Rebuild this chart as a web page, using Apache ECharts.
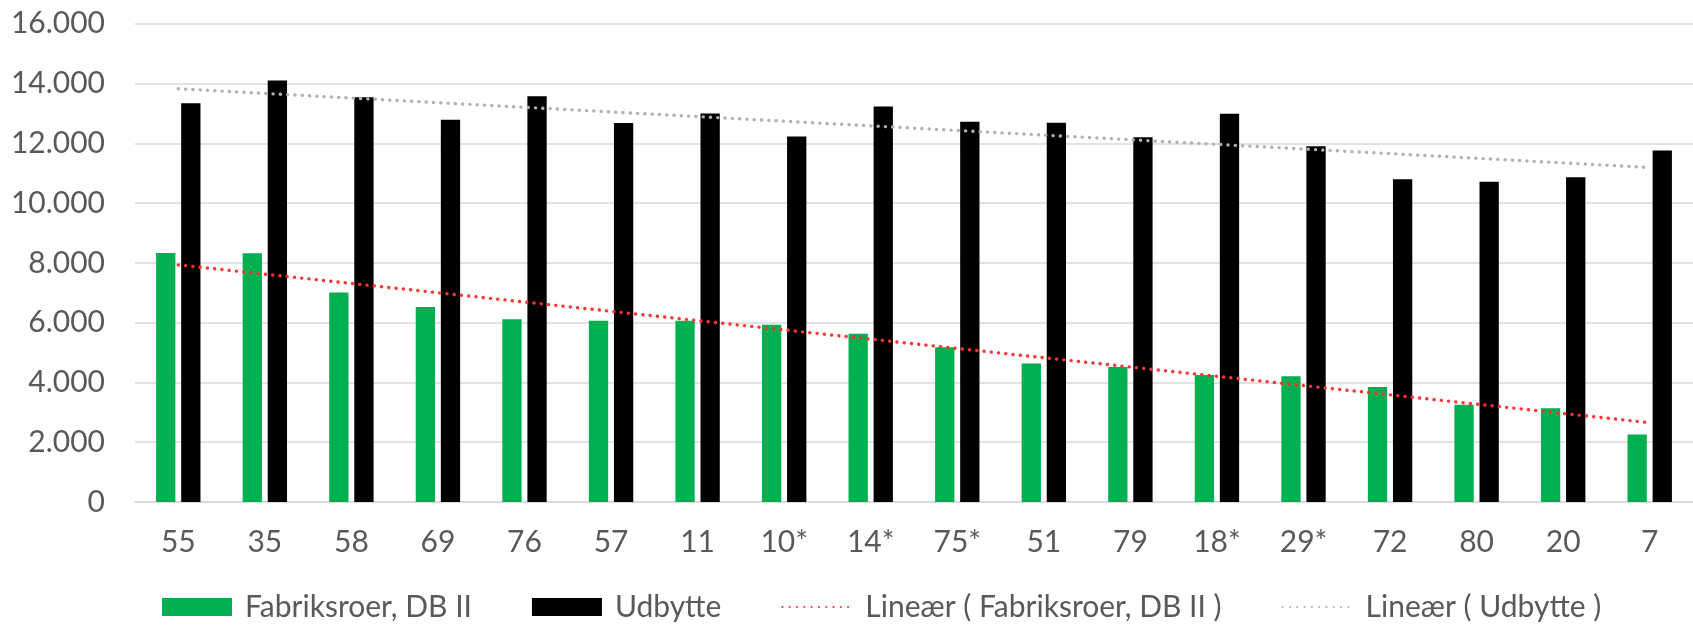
<!DOCTYPE html>
<html>
<head>
<meta charset="utf-8">
<script src="https://cdn.jsdelivr.net/npm/echarts@6/dist/echarts.min.js"></script>
<style>
html,body{margin:0;padding:0;background:#fff;}
#c{width:1693px;height:625px;}
</style>
</head>
<body>
<div id="c"></div>
<script>
const categories = ['55','35','58','69','76','57','11','10*','14*','75*','51','79','18*','29*','72','80','20','7'];
const fabriksroer = [8330,8320,7010,6520,6110,6060,6060,5930,5630,5180,4630,4520,4250,4210,3850,3250,3140,2260];
const udbytte = [13340,14100,13540,12790,13570,12680,13000,12230,13230,12720,12690,12200,12990,11900,10800,10710,10860,11760];
const yTicks = [0,2000,4000,6000,8000,10000,12000,14000,16000];
const seriesNames = ['Fabriksroer, DB II','Udbytte','Lineær ( Fabriksroer, DB II )','Lineær ( Udbytte )'];

function linearTrend(vals){
  const n = vals.length;
  let sx=0, sy=0, sxx=0, sxy=0;
  for(let i=0;i<n;i++){const x=i+1; sx+=x; sy+=vals[i]; sxx+=x*x; sxy+=x*vals[i];}
  const b=(n*sxy-sx*sy)/(n*sxx-sx*sx);
  const a=(sy-b*sx)/n;
  return vals.map((v,i)=>a+b*(i+1));
}

const fmt = v => String(v).replace(/\B(?=(\d{3})+(?!\d))/g,'.');
const font = 'Lato, "Open Sans", sans-serif';
const txt = '#595959';

const chart = echarts.init(document.getElementById('c'));
chart.setOption({
  animation:false,
  textStyle:{fontFamily:font},
  grid:{left:135,right:-6,top:23.7,bottom:123,containLabel:false},
  legend:{
    left:157, top:587,
    itemWidth:70, itemHeight:18, itemGap:60,
    textStyle:{fontSize:30,color:txt,fontFamily:font,padding:[0,0,0,8]},
    data:[
      {name:seriesNames[0],icon:'rect'},
      {name:seriesNames[1],icon:'rect'},
      {name:seriesNames[2],itemStyle:{opacity:0}},
      {name:seriesNames[3],itemStyle:{opacity:0}}
    ]
  },
  xAxis:{
    type:'category', data:categories,
    axisTick:{show:false},
    axisLine:{lineStyle:{color:'#d9d9d9',width:1.5}},
    axisLabel:{fontSize:30,color:txt,margin:25,fontFamily:font}
  },
  yAxis:{
    type:'value', min:0, max:16000, interval:2000,
    axisLabel:{fontSize:30,color:txt,margin:30,fontFamily:font,formatter:fmt},
    splitLine:{lineStyle:{color:'#d9d9d9',width:1.5}},
    axisLine:{show:false}, axisTick:{show:false}
  },
  series:[
    {name:seriesNames[0],type:'bar',data:fabriksroer,barWidth:19.3,barGap:'30%',
     itemStyle:{color:'#00b050'}},
    {name:seriesNames[1],type:'bar',data:udbytte,barWidth:19.3,barGap:'30%',
     itemStyle:{color:'#000000'}},
    {name:seriesNames[2],type:'line',data:linearTrend(fabriksroer),symbol:'none',z:5,
     lineStyle:{color:'#ff3333',width:3.4,type:[0.1,7.2],cap:'round'},itemStyle:{color:'#ff3333'}},
    {name:seriesNames[3],type:'line',data:linearTrend(udbytte),symbol:'none',z:5,
     lineStyle:{color:'#b0b0b0',width:3.4,type:[0.1,7.2],cap:'round'},itemStyle:{color:'#b0b0b0'}}
  ]
});
</script>
</body>
</html>
